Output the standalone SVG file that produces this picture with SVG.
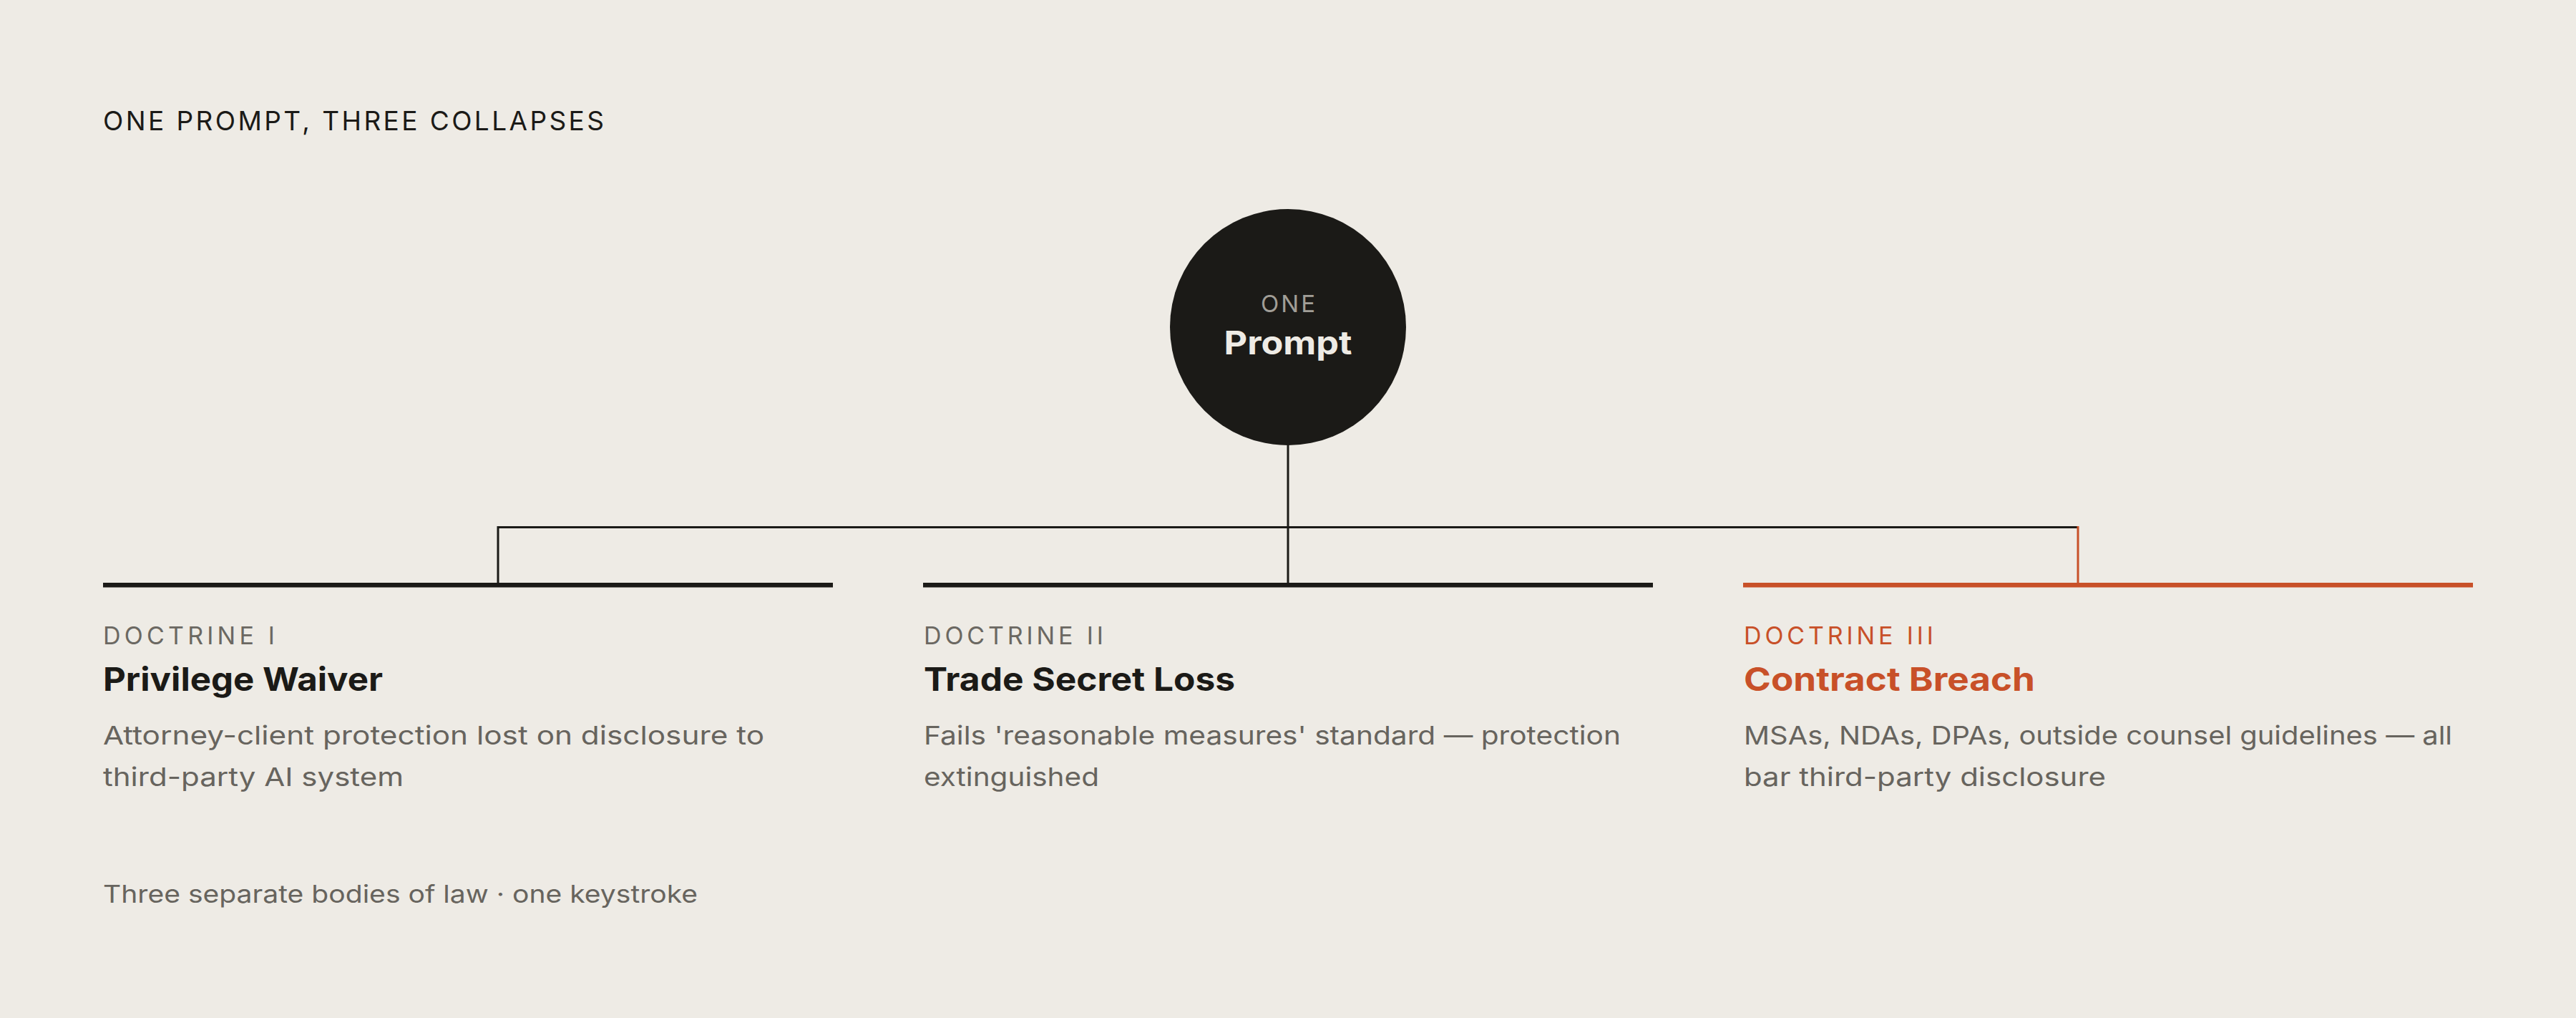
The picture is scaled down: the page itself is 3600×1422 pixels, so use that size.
<svg xmlns="http://www.w3.org/2000/svg" width="3600" height="1422" viewBox="0 0 3600 1422">
<style>
text{font-family:Inter,"DM Sans","Liberation Sans",sans-serif}
.kicker{font-size:37px;fill:#1b1a17;font-weight:400}
.lbl{font-size:34px;fill:#6b6862;font-weight:400}
.head{font-size:45px;fill:#1b1a17;font-weight:700}
.desc{font-size:36px;fill:#67645e;font-weight:400}
.foot{font-size:34px;fill:#67645e}
.acc{fill:#c85028}
.conn{stroke:#1b1a17;stroke-width:3;fill:none}
.conn-acc{stroke:#c85028;stroke-width:3;fill:none}
</style>
<rect x="0" y="0" width="3600" height="1422" fill="#eeebe5"/>
<text id="title" class="kicker" x="144" y="182" textLength="700" lengthAdjust="spacing">ONE PROMPT, THREE COLLAPSES</text>
<g id="connectors">
<line class="conn" x1="1800" y1="620" x2="1800" y2="815"/>
<line class="conn" x1="696" y1="736.5" x2="2904" y2="736.5"/>
<line class="conn" x1="696" y1="735" x2="696" y2="815"/>
<line class="conn-acc" x1="2904" y1="735" x2="2904" y2="815"/>
</g>
<g id="prompt">
<circle cx="1800" cy="457" r="165" fill="#1b1a17"/>
<text x="1800" y="436" text-anchor="middle" font-size="33" fill="#a19e97" textLength="76" lengthAdjust="spacing">ONE</text>
<text x="1800" y="495" text-anchor="middle" font-size="45" font-weight="700" fill="#eeebe5" textLength="179" lengthAdjust="spacingAndGlyphs">Prompt</text>
</g>
<g id="doctrine-1">
<rect x="144" y="814" width="1020" height="6.5" fill="#1b1a17"/>
<text class="lbl" x="144" y="900" textLength="240" lengthAdjust="spacing">DOCTRINE I</text>
<text class="head" x="144" y="965" textLength="391" lengthAdjust="spacingAndGlyphs">Privilege Waiver</text>
<text class="desc" x="144" y="1040" textLength="924" lengthAdjust="spacingAndGlyphs">Attorney-client protection lost on disclosure to</text>
<text class="desc" x="144" y="1098" textLength="420" lengthAdjust="spacingAndGlyphs">third-party AI system</text>
</g>
<g id="doctrine-2">
<rect x="1290" y="814" width="1020" height="6.5" fill="#1b1a17"/>
<text class="lbl" x="1291" y="900" textLength="251" lengthAdjust="spacing">DOCTRINE II</text>
<text class="head" x="1291" y="965" textLength="435" lengthAdjust="spacingAndGlyphs">Trade Secret Loss</text>
<text class="desc" x="1291" y="1040" textLength="974" lengthAdjust="spacingAndGlyphs">Fails 'reasonable measures' standard — protection</text>
<text class="desc" x="1291" y="1098" textLength="245" lengthAdjust="spacingAndGlyphs">extinguished</text>
</g>
<g id="doctrine-3">
<rect x="2436" y="814" width="1020" height="6.5" fill="#c85028"/>
<text class="lbl acc" x="2437" y="900" textLength="265" lengthAdjust="spacing">DOCTRINE III</text>
<text class="head acc" x="2437" y="965" textLength="407" lengthAdjust="spacingAndGlyphs">Contract Breach</text>
<text class="desc" x="2437" y="1040" textLength="990" lengthAdjust="spacingAndGlyphs">MSAs, NDAs, DPAs, outside counsel guidelines — all</text>
<text class="desc" x="2437" y="1098" textLength="506" lengthAdjust="spacingAndGlyphs">bar third-party disclosure</text>
</g>
<text id="footer" class="foot" x="144" y="1261" textLength="831" lengthAdjust="spacingAndGlyphs">Three separate bodies of law · one keystroke</text>
</svg>
